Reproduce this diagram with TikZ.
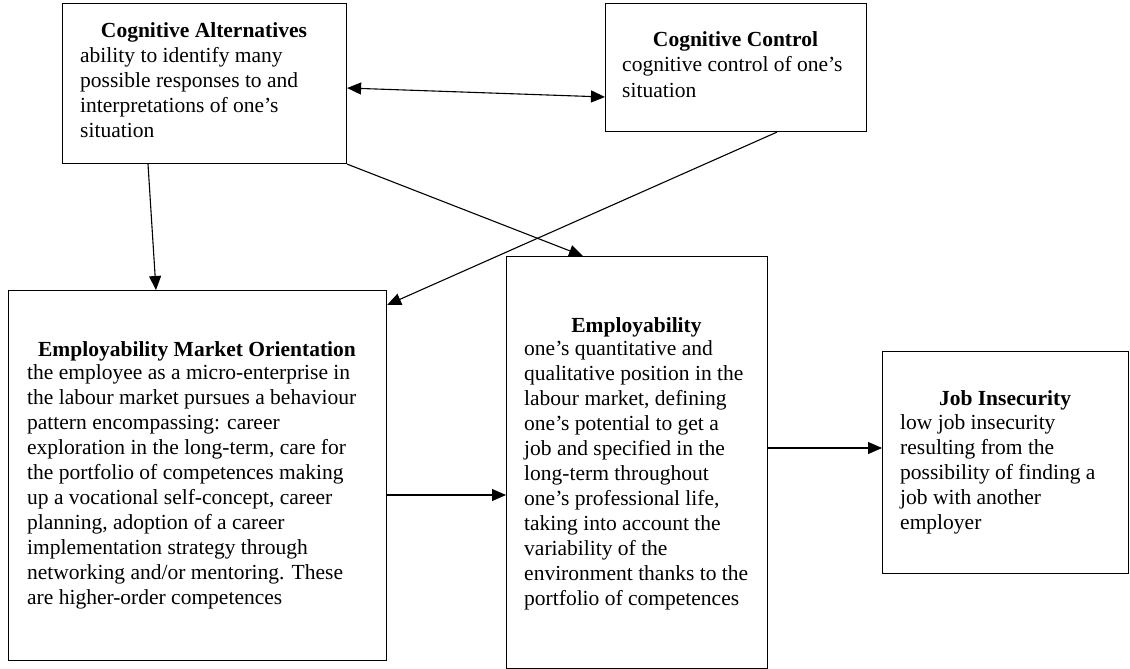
\documentclass[tikz,border=0pt]{standalone}
\usepackage{fontspec}
\setmainfont{Liberation Serif}
\usetikzlibrary{arrows.meta,calc}

\tikzset{
  frame/.style={draw, line width=1.1pt, rectangle, inner sep=0pt, anchor=north west},
  heading/.style={anchor=base, inner sep=0pt, font=\fontsize{21.5}{25}\selectfont\bfseries},
  % multi-line text: the base anchor sits on the baseline of the last line
  bodytext/.style={anchor=base west, inner sep=0pt, align=left, font=\fontsize{21.5}{25}\selectfont},
  link/.style={line width=1.1pt, -{Triangle[length=14pt,width=12pt]}},
  biglink/.style={line width=1.1pt, {Triangle[length=14pt,width=12pt]}-{Triangle[length=14pt,width=12pt]}}
}

\begin{document}
\begin{tikzpicture}[x=1pt, y=-1pt]
  \useasboundingbox (0,0) rectangle (1130,669);

  % boxes
  \node[frame, minimum width=284pt, minimum height=160pt] (ca) at (62,3) {};
  \node[frame, minimum width=261pt, minimum height=128pt] (cc) at (605,3) {};
  \node[frame, minimum width=378pt, minimum height=370pt] (emo) at (8,290) {};
  \node[frame, minimum width=261pt, minimum height=412pt] (emp) at (506,256) {};
  \node[frame, minimum width=246pt, minimum height=222pt] (ji) at (882,351) {};

  % Cognitive Alternatives
  \node[heading] (caT) at (204,38) {Cognitive Alternatives};
  \node[bodytext] (caB) at (80,137.5) {ability to identify many\\possible responses to and\\interpretations of one’s\\situation};

  % Cognitive Control
  \node[heading] (ccT) at (735.5,47) {Cognitive Control};
  \node[bodytext] (ccB) at (622,97) {cognitive control of one’s\\situation};

  % Employability Market Orientation
  \node[heading] (emoT) at (197,356) {Employability Market Orientation};
  \node[bodytext] (emoB) at (27,604) {the employee as a micro-enterprise in\\the labour market pursues a behaviour\\pattern encompassing: career\\exploration in the long-term, care for\\the portfolio of competences making\\up a vocational self-concept, career\\planning, adoption of a career\\implementation strategy through\\networking and/or mentoring. These\\are higher-order competences};

  % Employability
  \node[heading] (empT) at (636.5,332) {Employability};
  \node[bodytext] (empB) at (524,605) {one’s quantitative and\\qualitative position in the\\labour market, defining\\one’s potential to get a\\job and specified in the\\long-term throughout\\one’s professional life,\\taking into account the\\variability of the\\environment thanks to the\\portfolio of competences};

  % Job Insecurity
  \node[heading] (jiT) at (1005,405) {Job Insecurity};
  \node[bodytext] (jiB) at (900,529) {low job insecurity\\resulting from the\\possibility of finding a\\job with another\\employer};

  % connectors
  \draw[biglink] ([yshift=-85pt]ca.north east) -- ([yshift=-94pt]cc.north west);
  \draw[link] ([xshift=86pt]ca.south west) -- ([xshift=148pt]emo.north west);
  \draw[link] (ca.south east) -- ([xshift=77pt]emp.north west);
  \draw[link] ([xshift=172pt]cc.south west) -- ([yshift=-15pt]emo.north east);
  \draw[link] ([yshift=-205pt]emo.north east) -- ([yshift=-239pt]emp.north west);
  \draw[link] ([yshift=-192pt]emp.north east) -- ([yshift=-97pt]ji.north west);
\end{tikzpicture}
\end{document}
